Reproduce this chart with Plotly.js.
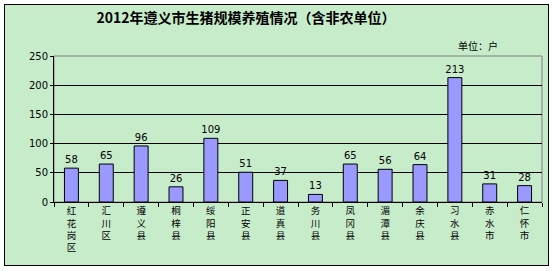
<!DOCTYPE html>
<html>
<head>
<meta charset="utf-8">
<script src="https://cdn.plot.ly/plotly-3.0.1.min.js"></script>
<style>
html,body{margin:0;padding:0;background:#fff;}
#bg{position:absolute;left:4px;top:4px;width:545px;height:262px;box-sizing:border-box;border:1.5px solid #000;background:#C7ECCA;}
#chart{position:absolute;left:0;top:0;width:553px;height:271px;}
</style>
</head>
<body>
<div id="bg"></div>
<div id="chart"></div>
<script>
var categories = ['红花岗区','汇川区','遵义县','桐梓县','绥阳县','正安县','道真县','务川县','凤冈县','湄潭县','余庆县','习水县','赤水市','仁怀市'];
var values = [58,65,96,26,109,51,37,13,65,56,64,213,31,28];
var yTicks = [0,50,100,150,200,250];

var tickText = categories.map(function(c){ return c.split('').join('<br>'); });

var trace = {
  type:'bar',
  x: categories,
  y: values,
  text: values.map(String),
  textposition:'outside',
  constraintext:'none',
  cliponaxis:false,
  textfont:{family:'DejaVu Sans, Verdana, sans-serif', size:10, color:'#000'},
  marker:{color:'#9999FF', line:{color:'#000', width:1}},
  hoverinfo:'none'
};

var layout = {
  width:553, height:271,
  margin:{l:54, r:11, t:56, b:69},
  paper_bgcolor:'rgba(0,0,0,0)',
  plot_bgcolor:'rgba(0,0,0,0)',
  showlegend:false,
  bargap:0.6,
  title:{text:'<b>2012年遵义市生猪规模养殖情况（含非农单位）</b>', x:246/553, xanchor:'center', y:1-18/271, yanchor:'middle',
    font:{family:'Noto Sans CJK SC', size:14, color:'#000'}},
  xaxis:{
    type:'category',
    tickmode:'array', tickvals:categories, ticktext:tickText,
    tickson:'boundaries', ticks:'outside', ticklen:4, tickcolor:'#000',
    showline:true, linecolor:'#000', linewidth:1,
    showgrid:false,
    tickfont:{family:'Noto Sans CJK SC', size:9.5, color:'#000'},
    fixedrange:true
  },
  yaxis:{
    range:[0,250],
    tickmode:'array', tickvals:yTicks,
    showline:true, linecolor:'#000', linewidth:1,
    showgrid:true, gridcolor:'#000', gridwidth:1,
    zeroline:false,
    ticks:'outside', ticklen:3, tickcolor:'#000',
    tickfont:{family:'DejaVu Sans, Verdana, sans-serif', size:10, color:'#000'},
    fixedrange:true
  },
  shapes:[{type:'rect', xref:'paper', yref:'paper', x0:0, x1:1, y0:0, y1:1, line:{color:'#808080', width:1}, layer:'below'}],
  annotations:[{text:'单位：户', xref:'paper', yref:'paper', x:(500-54)/488, y:1+(56-46)/146, xanchor:'right', yanchor:'middle', showarrow:false,
    font:{family:'Noto Sans CJK SC', size:10, color:'#000'}}]
};

Plotly.newPlot('chart',[trace],layout,{displayModeBar:false, staticPlot:true});
</script>
</body>
</html>
